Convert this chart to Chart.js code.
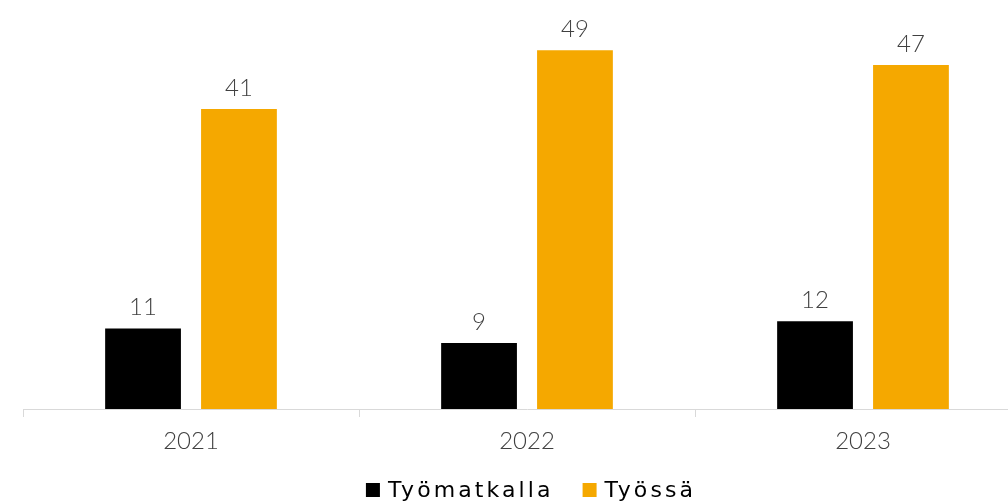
<!DOCTYPE html>
<html><head><meta charset="utf-8">
<script src="https://cdn.jsdelivr.net/npm/chart.js@4/dist/chart.umd.min.js"></script>
<style>
html,body{margin:0;padding:0;overflow:hidden;background:#fff;width:1008px;height:504px}
#wrap{position:absolute;left:0;top:0;width:1031px;height:504px}
</style></head><body>
<div id="wrap"><canvas id="c"></canvas></div>
<script>
const categories = ['2021', '2022', '2023'];
const tyomatkalla = [11, 9, 12];
const tyossa = [41, 49, 47];
const seriesNames = ['Työmatkalla', 'Työssä'];
const seriesColors = ['#000000', '#F5A800'];

const FONT = 'Lato';
const labelPlugin = {
  id: 'valueLabels',
  afterDatasetsDraw(chart) {
    const ctx = chart.ctx;
    ctx.save();
    ctx.font = '300 24px ' + FONT;
    ctx.fillStyle = '#404040';
    ctx.textAlign = 'center';
    ctx.textBaseline = 'bottom';
    chart.data.datasets.forEach((ds, i) => {
      chart.getDatasetMeta(i).data.forEach((bar, j) => {
        ctx.fillText(String(ds.data[j]), bar.x, bar.y - 9);
      });
    });
    ctx.restore();
  }
};

// bottom legend drawn with letter spacing
const legendPlugin = {
  id: 'spacedLegend',
  afterDraw(chart) {
    const ctx = chart.ctx;
    ctx.save();
    ctx.font = '500 22px "DejaVu Sans"';
    ctx.letterSpacing = '3.1px';
    ctx.textBaseline = 'middle';
    ctx.textAlign = 'left';
    const box = 14, gapBoxText = 8, gapItems = 29;
    const items = chart.data.datasets.map(ds => ({ text: ds.label, color: ds.backgroundColor }));
    const widths = items.map(it => box + gapBoxText + ctx.measureText(it.text).width);
    const total = widths.reduce((a, b) => a + b, 0) + gapItems * (items.length - 1);
    const ca = chart.chartArea;
    let x = (ca.left + ca.right) / 2 + 4 - total / 2;
    const yc = 490;
    items.forEach((it, i) => {
      ctx.fillStyle = it.color;
      ctx.fillRect(x, yc - box / 2, box, box);
      ctx.fillStyle = '#000000';
      ctx.fillText(it.text, x + box + gapBoxText, yc + 1);
      x += widths[i] + gapItems;
    });
    ctx.restore();
  }
};

new Chart(document.getElementById('c'), {
  type: 'bar',
  data: {
    labels: categories,
    datasets: [
      { label: seriesNames[0], data: tyomatkalla, backgroundColor: seriesColors[0] },
      { label: seriesNames[1], data: tyossa, backgroundColor: seriesColors[1] }
    ]
  },
  options: {
    responsive: true,
    maintainAspectRatio: false,
    animation: false,
    categoryPercentage: 0.571,
    barPercentage: 0.79,
    layout: { padding: { top: 6.4, left: 23, right: 0, bottom: 50 } },
    scales: {
      x: {
        grid: { drawOnChartArea: false, tickLength: 8, color: '#d9d9d9', offset: true },
        border: { color: '#d9d9d9' },
        ticks: { color: '#404040', font: { family: FONT, size: 24, weight: 300 }, padding: 10 },
        afterFit(scale) { scale.height = 45; }
      },
      y: { display: false, min: 0, max: 55 }
    },
    plugins: {
      legend: { display: false },
      tooltip: { enabled: false }
    }
  },
  plugins: [labelPlugin, legendPlugin]
});
</script>
</body></html>
